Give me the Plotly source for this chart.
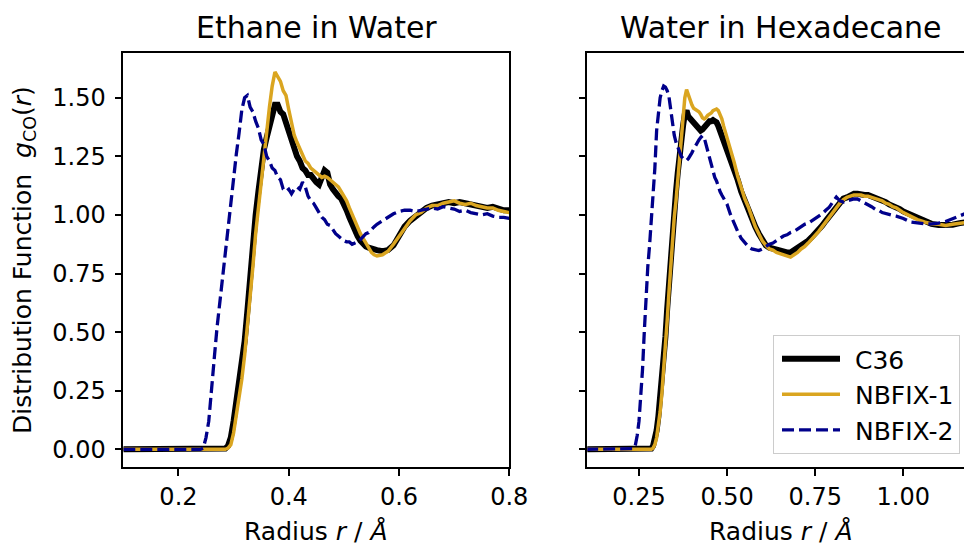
import plotly.graph_objects as go

# ---------------- data: Ethane in Water ----------------
ew_r = [0.10, 0.15, 0.20,
        0.240, 0.245, 0.250, 0.255, 0.260, 0.265, 0.270, 0.275, 0.280, 0.285,
        0.290, 0.295, 0.300, 0.305, 0.310, 0.315, 0.320, 0.325, 0.330, 0.335,
        0.340, 0.345, 0.350, 0.355, 0.360, 0.365, 0.370, 0.375, 0.380, 0.385,
        0.390, 0.395, 0.400, 0.405, 0.410, 0.415, 0.420, 0.425, 0.430, 0.435,
        0.440, 0.445, 0.450, 0.455, 0.460, 0.465, 0.470, 0.475, 0.480, 0.485,
        0.490, 0.495, 0.500, 0.505, 0.510, 0.515, 0.520, 0.525, 0.530, 0.535,
        0.540, 0.545, 0.550, 0.555, 0.560,
        0.57, 0.58, 0.59, 0.60, 0.61, 0.62, 0.63, 0.64, 0.65, 0.66, 0.67, 0.68,
        0.69, 0.70, 0.71, 0.72, 0.73, 0.74, 0.75, 0.76, 0.77, 0.78, 0.79, 0.80]
ew_c36 = [0, 0, 0,
          0, 0, 0, 0, 0, 0, 0, 0, 0, 0.003,
          0.015, 0.05, 0.12, 0.20, 0.27, 0.35, 0.46, 0.59, 0.74, 0.88,
          1.00, 1.10, 1.20, 1.28, 1.33, 1.37, 1.43, 1.47, 1.47, 1.44,
          1.43, 1.39, 1.37, 1.32, 1.29, 1.25, 1.23, 1.20, 1.19, 1.17,
          1.17, 1.15, 1.14, 1.13, 1.16, 1.19, 1.18, 1.13, 1.11, 1.09,
          1.08, 1.07, 1.05, 1.02, 0.99, 0.96, 0.94, 0.91, 0.89, 0.875,
          0.865, 0.86, 0.855, 0.855, 0.85,
          0.845, 0.85, 0.87, 0.91, 0.95, 0.975, 0.995, 1.015, 1.03, 1.04, 1.045, 1.05,
          1.055, 1.05, 1.055, 1.05, 1.045, 1.04, 1.04, 1.03, 1.035, 1.025, 1.02, 1.02]
ew_nb1 = [0, 0, 0,
          0, 0, 0, 0, 0, 0, 0, 0, 0, 0,
          0.005, 0.02, 0.07, 0.14, 0.22, 0.30, 0.40, 0.52, 0.66, 0.78,
          0.92, 1.03, 1.16, 1.27, 1.36, 1.46, 1.55, 1.61, 1.59, 1.57,
          1.53, 1.51, 1.45, 1.40, 1.34, 1.31, 1.28, 1.25, 1.23, 1.22,
          1.20, 1.19, 1.18, 1.17, 1.16, 1.165, 1.16, 1.15, 1.14, 1.13,
          1.12, 1.10, 1.08, 1.06, 1.03, 1.00, 0.97, 0.94, 0.92, 0.90,
          0.88, 0.86, 0.84, 0.83, 0.825,
          0.83, 0.845, 0.875, 0.91, 0.945, 0.975, 1.00, 1.01, 1.03, 1.04, 1.04, 1.05,
          1.055, 1.06, 1.05, 1.045, 1.05, 1.04, 1.035, 1.03, 1.03, 1.02, 1.015, 1.01]
ew_nb2 = [0, 0, 0,
          0, 0.005, 0.05, 0.12, 0.24, 0.39, 0.52, 0.63, 0.72, 0.83,
          0.95, 1.06, 1.16, 1.26, 1.35, 1.45, 1.50, 1.51, 1.46, 1.44,
          1.40, 1.37, 1.32, 1.30, 1.25, 1.23, 1.20, 1.19, 1.16, 1.15,
          1.11, 1.10, 1.11, 1.09, 1.11, 1.12, 1.11, 1.14, 1.12, 1.08,
          1.06, 1.05, 1.03, 1.01, 0.99, 0.98, 0.96, 0.955, 0.935, 0.92,
          0.91, 0.90, 0.89, 0.885, 0.885, 0.875, 0.88, 0.885, 0.895, 0.91,
          0.92, 0.925, 0.94, 0.95, 0.96,
          0.975, 0.99, 1.005, 1.015, 1.02, 1.02, 1.015, 1.02, 1.025, 1.03, 1.025, 1.035,
          1.03, 1.025, 1.015, 1.02, 1.01, 1.005, 1.00, 1.005, 0.995, 0.99, 0.99, 0.985]

# ---------------- data: Water in Hexadecane ----------------
wh_r = [0.10, 0.15, 0.20,
        0.230, 0.235, 0.240, 0.245, 0.250, 0.255, 0.260, 0.265, 0.270, 0.275,
        0.280, 0.285, 0.290, 0.295, 0.300, 0.305, 0.310, 0.315, 0.320, 0.325,
        0.330, 0.335, 0.340, 0.345, 0.350, 0.355, 0.360, 0.365, 0.370, 0.375,
        0.380, 0.385, 0.390, 0.395, 0.400, 0.405, 0.410, 0.415, 0.420, 0.425,
        0.430, 0.435, 0.440, 0.445, 0.450, 0.455, 0.460, 0.465, 0.470, 0.475,
        0.480, 0.485, 0.490, 0.495, 0.500,
        0.51, 0.52, 0.53, 0.54, 0.55, 0.56, 0.57, 0.58, 0.59, 0.60,
        0.61, 0.62, 0.63, 0.64, 0.65, 0.66, 0.67, 0.68, 0.69, 0.70,
        0.71, 0.72, 0.73, 0.74, 0.75, 0.76, 0.77, 0.78, 0.79, 0.80,
        0.81, 0.82, 0.83, 0.84, 0.85, 0.86, 0.87, 0.88, 0.89, 0.90,
        0.91, 0.92, 0.93, 0.94, 0.95, 0.96, 0.97, 0.98, 0.99, 1.00,
        1.02, 1.04, 1.06, 1.08, 1.10, 1.12, 1.14, 1.16, 1.18, 1.20]
wh_c36 = [0, 0, 0,
          0, 0, 0, 0, 0, 0, 0, 0, 0, 0,
          0, 0.003, 0.015, 0.04, 0.08, 0.14, 0.21, 0.29, 0.38, 0.48,
          0.60, 0.72, 0.83, 0.94, 1.03, 1.10, 1.18, 1.26, 1.32, 1.38,
          1.43, 1.445, 1.42, 1.41, 1.40, 1.395, 1.385, 1.38, 1.37, 1.36,
          1.365, 1.375, 1.385, 1.39, 1.40, 1.40, 1.405, 1.40, 1.395, 1.38,
          1.36, 1.34, 1.32, 1.30, 1.285,
          1.24, 1.20, 1.15, 1.10, 1.06, 1.02, 0.98, 0.95, 0.92, 0.89,
          0.87, 0.86, 0.855, 0.85, 0.845, 0.84, 0.84, 0.84, 0.85, 0.855,
          0.865, 0.875, 0.89, 0.905, 0.92, 0.935, 0.955, 0.975, 0.995, 1.02,
          1.04, 1.055, 1.07, 1.075, 1.085, 1.09, 1.09, 1.085, 1.085, 1.085,
          1.08, 1.075, 1.07, 1.065, 1.055, 1.045, 1.04, 1.035, 1.025, 1.015,
          1.00, 0.985, 0.97, 0.962, 0.957, 0.955, 0.958, 0.965, 0.97, 0.975]
wh_nb1 = [0, 0, 0,
          0, 0, 0, 0, 0, 0, 0, 0, 0, 0,
          0, 0, 0.005, 0.02, 0.05, 0.10, 0.16, 0.24, 0.33, 0.43,
          0.55, 0.67, 0.79, 0.90, 0.99, 1.06, 1.14, 1.24, 1.34, 1.42,
          1.50, 1.535, 1.51, 1.485, 1.47, 1.455, 1.45, 1.445, 1.44, 1.43,
          1.415, 1.41, 1.415, 1.425, 1.43, 1.435, 1.445, 1.45, 1.452, 1.445,
          1.43, 1.41, 1.38, 1.355, 1.33,
          1.28, 1.225, 1.165, 1.115, 1.07, 1.035, 0.99, 0.95, 0.92, 0.89,
          0.87, 0.855, 0.85, 0.84, 0.835, 0.83, 0.825, 0.82, 0.83, 0.84,
          0.855, 0.865, 0.88, 0.895, 0.91, 0.93, 0.95, 0.97, 0.99, 1.015,
          1.035, 1.05, 1.065, 1.075, 1.08, 1.085, 1.085, 1.085, 1.08, 1.08,
          1.075, 1.07, 1.065, 1.06, 1.05, 1.045, 1.035, 1.03, 1.02, 1.01,
          0.995, 0.98, 0.97, 0.962, 0.96, 0.955, 0.96, 0.965, 0.97, 0.972]
wh_nb2 = [0, 0, 0,
          0, 0.003, 0.02, 0.06, 0.12, 0.22, 0.34, 0.50, 0.66, 0.78,
          0.87, 0.97, 1.07, 1.20, 1.36, 1.45, 1.50, 1.53, 1.55, 1.545,
          1.53, 1.505, 1.44, 1.38, 1.34, 1.31, 1.29, 1.27, 1.25, 1.24,
          1.235, 1.232, 1.24, 1.25, 1.265, 1.28, 1.295, 1.31, 1.32, 1.33,
          1.338, 1.33, 1.30, 1.275, 1.25, 1.22, 1.19, 1.16, 1.145, 1.12,
          1.10, 1.085, 1.07, 1.06, 1.045,
          1.00, 0.96, 0.93, 0.90, 0.88, 0.865, 0.855, 0.85, 0.848, 0.855,
          0.865, 0.875, 0.88, 0.89, 0.90, 0.91, 0.915, 0.925, 0.93, 0.94,
          0.95, 0.96, 0.965, 0.975, 0.985, 0.995, 1.005, 1.02, 1.033, 1.055,
          1.076, 1.06, 1.055, 1.06, 1.065, 1.068, 1.068, 1.06, 1.05, 1.045,
          1.035, 1.025, 1.02, 1.01, 1.005, 1.0, 0.998, 0.995, 0.99, 0.985,
          0.97, 0.965, 0.962, 0.962, 0.965, 0.972, 0.984, 0.998, 1.008, 1.01]

series_names = ["C36", "NBFIX-1", "NBFIX-2"]
panel_titles = ["Ethane in Water", "Water in Hexadecane"]
y_ticks = [0.00, 0.25, 0.50, 0.75, 1.00, 1.25, 1.50]
x1_ticks = [0.2, 0.4, 0.6, 0.8]
x2_ticks = [0.25, 0.50, 0.75, 1.00]

# ---------------- styling ----------------
W, H = 964, 548
FONT = "DejaVu Sans"
styles = [
    dict(color="black", width=6, dash="solid"),
    dict(color="#DAA520", width=3.5, dash="solid"),
    dict(color="#00008B", width=3.3, dash="12px,5px"),
]
GAP = "\u2009\u2009"  # small visual gap between legend line and label

fig = go.Figure()
panels = [(ew_r, [ew_c36, ew_nb1, ew_nb2], "x", "y"),
          (wh_r, [wh_c36, wh_nb1, wh_nb2], "x2", "y2")]
for p, (r, ys, xa, ya) in enumerate(panels):
    for name, yv, st in zip(series_names, ys, styles):
        fig.add_trace(go.Scatter(
            x=r, y=yv, mode="lines", name=GAP + name, xaxis=xa, yaxis=ya,
            line=dict(color=st["color"], width=st["width"], dash=st["dash"]),
            showlegend=(p == 1), hoverinfo="skip"))

# plot-area pixel geometry
L1, R1 = 123.3, 509.3
L2 = 587.3
TOP, BOT = 53.3, 466.7
mt, mb = TOP, H - BOT

axis_common = dict(showline=True, linecolor="black", linewidth=1.6,
                   ticks="outside", ticklen=7, tickwidth=1.6, tickcolor="black",
                   showgrid=False, zeroline=False, automargin=False,
                   tickfont=dict(family=FONT, size=24, color="black"))

fig.update_layout(
    template="none",
    width=W, height=H, autosize=False,
    margin=dict(l=0, r=0, t=mt, b=mb, pad=0, autoexpand=False),
    paper_bgcolor="white", plot_bgcolor="white",
    font=dict(family=FONT, color="black"),
    xaxis=dict(domain=[L1 / W, R1 / W], range=[0.1, 0.8], tickvals=x1_ticks,
               ticktext=["0.2", "0.4", "0.6", "0.8"], mirror=True,
               anchor="y", **axis_common),
    yaxis=dict(domain=[0, 1], range=[-0.0756, 1.691], tickvals=y_ticks,
               ticktext=["%.2f" % v for v in y_ticks], mirror=True,
               anchor="x", ticklabelstandoff=4, **axis_common),
    xaxis2=dict(domain=[L2 / W, 1.0], range=[0.1033, 0.25 + (964 - 639) / 352.4],
                tickvals=x2_ticks, ticktext=["0.25", "0.50", "0.75", "1.00"],
                mirror=True, anchor="y2", **axis_common),
    yaxis2=dict(domain=[0, 1], range=[-0.0756, 1.691], tickvals=y_ticks,
                showticklabels=False, mirror=False, anchor="x2", **axis_common),
    legend=dict(x=960 / W, xanchor="right", y=(BOT - 335) / (BOT - TOP), yanchor="top",
                bgcolor="rgba(255,255,255,0.8)", bordercolor="#cccccc", borderwidth=1,
                font=dict(family=FONT, size=25, color="black"),
                itemwidth=58, tracegroupgap=0, indentation=3),
    showlegend=True,
)

def px_to_paper_x(px):
    return px / W

def py_to_paper_y(py):
    return (BOT - py) / (BOT - TOP)

annotations = [
    dict(text=panel_titles[0], x=px_to_paper_x((L1 + R1) / 2), y=py_to_paper_y(28),
         font=dict(family=FONT, size=30, color="black")),
    dict(text=panel_titles[1], x=px_to_paper_x((L2 + 974) / 2), y=py_to_paper_y(28),
         font=dict(family=FONT, size=30, color="black")),
    dict(text="Radius <i>r</i> / <i>Å</i>", x=px_to_paper_x((L1 + R1) / 2), y=py_to_paper_y(531),
         font=dict(family=FONT, size=25, color="black")),
    dict(text="Radius <i>r</i> / <i>Å</i>", x=px_to_paper_x((L2 + 974) / 2), y=py_to_paper_y(531),
         font=dict(family=FONT, size=25, color="black")),
    dict(text="Distribution Function  <i>g</i><sub>CO</sub>(<i>r</i>)", x=px_to_paper_x(24),
         y=py_to_paper_y(260), textangle=-90,
         font=dict(family=FONT, size=25, color="black")),
]
for a in annotations:
    a.update(xref="paper", yref="paper", showarrow=False, xanchor="center", yanchor="middle")
fig.update_layout(annotations=annotations)

fig.write_html("out.html", config={"responsive": False})
